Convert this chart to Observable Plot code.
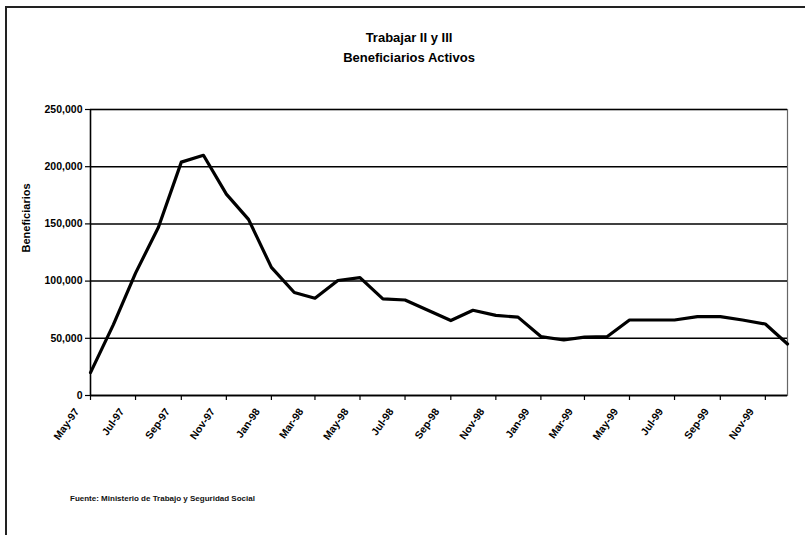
<!DOCTYPE html>
<html>
<head>
<meta charset="utf-8">
<script src="https://cdn.jsdelivr.net/npm/d3@7"></script>
<script src="https://cdn.jsdelivr.net/npm/@observablehq/plot@0.6"></script>
<style>
  html, body { margin: 0; padding: 0; background: #fff; }
  body { width: 805px; height: 535px; position: relative; overflow: hidden; font-family: "Liberation Sans", Arial, sans-serif; }
  #border { position: absolute; left: 5px; top: 6px; width: 820px; height: 560px; border: 2px solid #222; box-sizing: border-box; }
  .title { position: absolute; left: 0; width: 818px; text-align: center; font-weight: bold; font-size: 13px; color: #000; }
  #chart { position: absolute; left: 0; top: 80px; }
  #note { position: absolute; left: 70px; top: 494px; font-size: 8px; font-weight: bold; color: #111; }
</style>
</head>
<body>
<div id="border"></div>
<div class="title" style="top:30px">Trabajar II y III</div>
<div class="title" style="top:50px">Beneficiarios Activos</div>
<div id="chart"></div>
<div id="note">Fuente: Ministerio de Trabajo y Seguridad Social</div>
<script>
// Monthly active beneficiaries, May 1997 – Dec 1999
const months = [
  "1997-05","1997-06","1997-07","1997-08","1997-09","1997-10","1997-11","1997-12",
  "1998-01","1998-02","1998-03","1998-04","1998-05","1998-06","1998-07","1998-08",
  "1998-09","1998-10","1998-11","1998-12","1999-01","1999-02","1999-03","1999-04",
  "1999-05","1999-06","1999-07","1999-08","1999-09","1999-10","1999-11","1999-12"
];
const beneficiarios = [
  20000, 62000, 107000, 147000, 204000, 210000, 176000, 154000,
  112000, 90000, 85000, 100500, 103000, 84500, 83500, 74500,
  65500, 74500, 70000, 68500, 51500, 48500, 51000, 51500,
  66000, 66000, 66000, 69000, 69000, 66000, 62500, 45000
];

// Axis tick labels, every two months
const tickMonths = [
  "1997-05","1997-07","1997-09","1997-11","1998-01","1998-03","1998-05","1998-07",
  "1998-09","1998-11","1999-01","1999-03","1999-05","1999-07","1999-09","1999-11"
];
const tickLabels = [
  "May-97","Jul-97","Sep-97","Nov-97","Jan-98","Mar-98","May-98","Jul-98",
  "Sep-98","Nov-98","Jan-99","Mar-99","May-99","Jul-99","Sep-99","Nov-99"
];
const yTicks = [0, 50000, 100000, 150000, 200000, 250000];
const yLabel = "Beneficiarios";

const parse = d3.utcParse("%Y-%m");
const data = months.map((m, i) => ({date: parse(m), value: beneficiarios[i]}));
const ticks = tickMonths.map((m, i) => ({date: parse(m), label: tickLabels[i]}));
const fmt = d3.format(",");

const chart = Plot.plot({
  width: 805,
  height: 400,
  marginLeft: 90,
  marginRight: 18,
  marginTop: 29,
  marginBottom: 85,
  style: {fontFamily: "'Liberation Sans', Arial, sans-serif", fontSize: "10px", color: "#000", background: "transparent"},
  x: {type: "utc", domain: [parse(months[0]), parse(months[months.length - 1])]},
  y: {domain: [0, 250000]},
  marks: [
    Plot.frame({stroke: "#666", strokeWidth: 1.2}),
    Plot.gridY(yTicks, {stroke: "#000", strokeOpacity: 1, strokeWidth: 1.5}),
    Plot.axisY({
      ticks: yTicks, tickFormat: fmt, tickSize: 5, tickPadding: 3,
      fontSize: 10.5, fontWeight: "bold", label: null, strokeWidth: 1.2
    }),
    Plot.ruleY([0], {stroke: "#000", strokeWidth: 1.5}),
    Plot.ruleX([parse(months[0])], {stroke: "#000", strokeWidth: 1.5}),
    Plot.axisX({
      ticks: ticks.map(d => d.date), tickFormat: () => "",
      tickSize: 5, label: null, strokeWidth: 1.2
    }),
    Plot.text(ticks, {
      x: "date", frameAnchor: "bottom", text: "label",
      rotate: -55, textAnchor: "end", dx: -11, dy: 16,
      fontSize: 10.5, fontWeight: "bold"
    }),
    Plot.text([yLabel], {
      frameAnchor: "left", rotate: -90, dx: -64, text: d => d,
      fontSize: 11, fontWeight: "bold"
    }),
    Plot.lineY(data, {x: "date", y: "value", stroke: "#000", strokeWidth: 3.2, curve: "linear"})
  ]
});
document.getElementById("chart").appendChild(chart);
</script>
</body>
</html>
